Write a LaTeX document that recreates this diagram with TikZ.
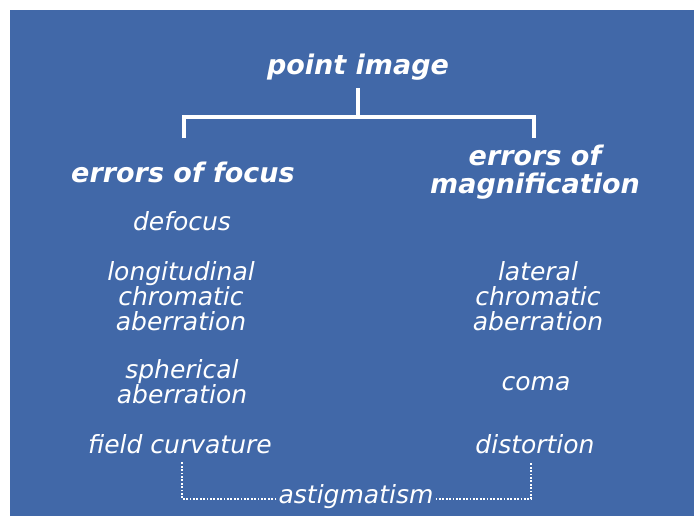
\documentclass[tikz,border=0pt]{standalone}
\usepackage{fontspec}
\setmainfont{DejaVu Sans}
\usetikzlibrary{positioning}
\definecolor{panelblue}{RGB}{65,104,168}

\begin{document}
\begin{tikzpicture}[x=1pt,y=-1pt]
        \tikzstyle{item}=[text=white,align=center,inner sep=2pt,font=\fontsize{25}{25}\selectfont\itshape]
        \tikzstyle{head}=[text=white,align=center,inner sep=2pt,font=\fontsize{27}{28}\selectfont\bfseries\itshape]
        \tikzstyle{bracket}=[draw=white,line width=3.2pt,line join=miter]
        \tikzstyle{dots}=[draw=white,line width=2pt,dash pattern=on 1.8pt off 1.6pt]

        \useasboundingbox (0,0) rectangle (694,517);
        \fill[white] (0,0) rectangle (694,517);
        \fill[panelblue] (10,10) rectangle (694,516);

        \node[head] (point) at (358,67) {point image};
        \node[head] (focus) at (183,172) {errors of focus};
        \node[head] (magn) at (535,172) {errors of\\magnification};

        % left column
        \node[item] (defocus) at (182,221) {defocus};
        \node[item] (longchrom) at (181,296) {longitudinal\\chromatic\\aberration};
        \node[item] (spherical) at (182,382) {spherical\\aberration};
        \node[item] (fieldcurv) at (180,444) {field curvature};

        % right column
        \node[item] (latchrom) at (538,296) {lateral\\chromatic\\aberration};
        \node[item] (coma) at (536,384) {coma};
        \node[item] (distortion) at (535,444) {distortion};

        \node[item] (astig) at (356,497) {astigmatism};

        % tree bracket
        \coordinate (stem) at (358,88);
        \coordinate (joint) at (358,117);
        \coordinate (lfoot) at (184,138);
        \coordinate (rfoot) at (534,138);
        \draw[bracket] (stem) -- (joint);
        \draw[bracket] (lfoot) |- (joint) -| (rfoot);

        % dotted bracket
        \coordinate (lhook) at (182,462);
        \coordinate (rhook) at (531,462);
        \draw[dots] ([yshift=-2pt]astig.west) -| (lhook);
        \draw[dots] ([yshift=-2pt]astig.east) -| (rhook);
    \end{tikzpicture}
\end{document}
